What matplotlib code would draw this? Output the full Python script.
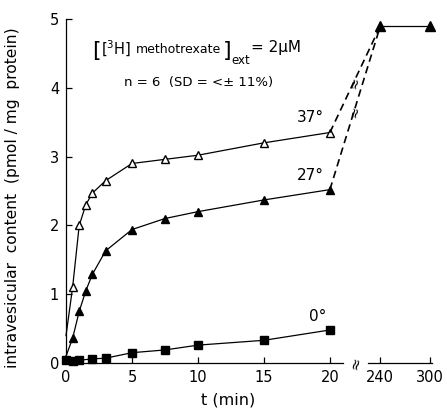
import matplotlib.pyplot as plt
import numpy as np

# data
t_37 = [0, 0.5, 1, 1.5, 2, 3, 5, 7.5, 10, 15, 20]
c_37 = [0.4, 1.1, 2.0, 2.3, 2.47, 2.65, 2.9, 2.96, 3.02, 3.2, 3.35]
t_27 = [0, 0.5, 1, 1.5, 2, 3, 5, 7.5, 10, 15, 20]
c_27 = [0.1, 0.36, 0.75, 1.05, 1.29, 1.63, 1.94, 2.1, 2.2, 2.37, 2.52]
t_0 = [0, 0.5, 1, 2, 3, 5, 7.5, 10, 15, 20]
c_0 = [0.05, 0.03, 0.04, 0.06, 0.07, 0.15, 0.19, 0.26, 0.33, 0.48]
t_late = [240, 300]
c_late = [4.9, 4.9]

xticks = [0, 5, 10, 15, 20, 240, 300]
yticks = [0, 1, 2, 3, 4, 5]

# broken time axis: 0-21 min linear, 21-225 squeezed, then compressed
tb = [-100, 0, 21, 225, 400]
ub = [-100, 0, 21, 22.88, 22.88 + 175 * 0.0631]

def fwd(t):
    return np.interp(t, tb, ub)

def inv(u):
    return np.interp(u, ub, tb)

plt.rcParams['font.family'] = ['DejaVu Sans']
plt.rcParams['mathtext.fontset'] = 'dejavusans'

fig = plt.figure(figsize=(4.47, 4.12), dpi=100)
ax = fig.add_axes([0.1477, 0.1189, 0.9664 - 0.1477, 0.9539 - 0.1189])
ax.set_xscale('function', functions=(fwd, inv))

k = dict(color='k', lw=0.9)
ax.plot(t_37, c_37, '-', marker='^', mfc='white', mec='k', ms=6, markevery=slice(1, None),
        clip_on=False, **k)
ax.plot(t_27, c_27, '-', marker='^', mfc='k', mec='k', ms=6, markevery=slice(1, None),
        clip_on=False, **k)
ax.plot(t_0, c_0, '-', marker='s', mfc='k', mec='k', ms=5.5, clip_on=False, **k)
d = dict(color='k', lw=1.2, ls='--', dashes=(4.5, 2.8))
ax.plot([t_37[-1], t_late[0]], [c_37[-1], c_late[0]], **d)
ax.plot([t_27[-1], t_late[0]], [c_27[-1], c_late[0]], **d)
ax.plot(t_late, c_late, '-', marker='^', mfc='k', mec='k', ms=6.5, clip_on=False, **k)

ax.set_xlim(0, 302)
ax.set_ylim(0, 5)
ax.set_xticks(xticks)
ax.set_xticklabels([str(v) for v in xticks])
ax.set_yticks(yticks)
ax.tick_params(direction='in', length=4, width=0.9, labelsize=10.5, pad=5)

for s in ['top', 'right']:
    ax.spines[s].set_visible(False)
ax.spines['left'].set_linewidth(0.9)
ax.spines['bottom'].set_linewidth(0.9)
ax.spines['bottom'].set_bounds(0, 21)
ax.plot([225, 302], [0, 0], color='k', lw=0.9, transform=ax.get_xaxis_transform(), clip_on=False)

# break marks
ax.text(125, 0, '≈', rotation=75, ha='center', va='center', fontsize=11,
        transform=ax.get_xaxis_transform())
ax.text(118, 4.07, '≈', rotation=75, ha='center', va='center', fontsize=10)
ax.text(118, 3.65, '≈', rotation=75, ha='center', va='center', fontsize=10)

# concentration label, pieced together so the outer brackets can be big
ax.text(2.65, 4.53, '[', fontsize=16, va='center', ha='right')
ax.text(2.65, 4.56, r'$[^{3}$H$]$', fontsize=10.5, va='center')
ax.text(5.3, 4.55, 'methotrexate', fontsize=9, va='center')
ax.text(11.85, 4.53, ']', fontsize=16, va='center')
ax.text(12.55, 4.40, 'ext', fontsize=8.5, va='center')
ax.text(14.05, 4.58, '= 2μM', fontsize=11, va='center')
ax.text(4.4, 4.08, 'n = 6  (SD = <± 11%)', fontsize=9.5, va='center')
ax.text(18.5, 3.57, '37°', fontsize=11, va='center', ha='center')
ax.text(18.5, 2.72, '27°', fontsize=11, va='center', ha='center')
ax.text(19.1, 0.68, '0°', fontsize=11, va='center', ha='center')

ax.set_xlabel('t (min)', fontsize=11.5)
ax.xaxis.set_label_coords(0.443, -0.085)
ax.set_ylabel('intravesicular  content  (pmol / mg  protein)', fontsize=11.2)
ax.yaxis.set_label_coords(-0.126, 0.48)

fig.savefig('out.png', dpi=100)
